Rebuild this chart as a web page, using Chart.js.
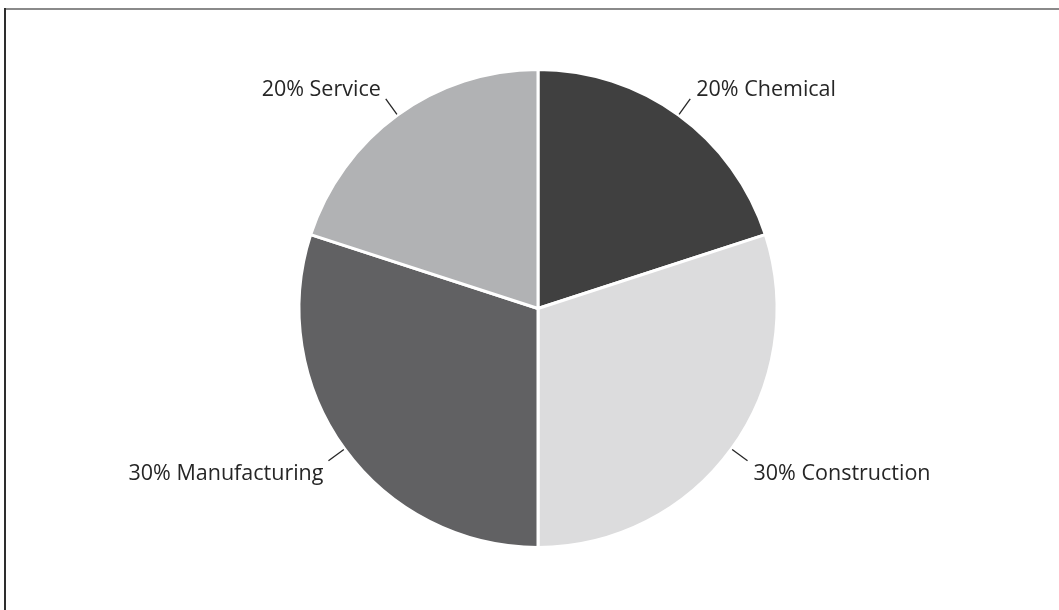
<!DOCTYPE html>
<html>
<head>
<meta charset="utf-8">
<title>Industry share</title>
<script src="https://cdn.jsdelivr.net/npm/chart.js@4/dist/chart.umd.min.js"></script>
<style>
  html, body { margin: 0; padding: 0; background: #ffffff; }
  #wrap { position: relative; width: 1059px; height: 610px; }
  canvas { display: block; }
</style>
</head>
<body>
<div id="wrap"><canvas id="pie" width="1059" height="610"></canvas></div>
<script>
// Sector names, shares (%) and slice fills
const sectors = ['Chemical', 'Construction', 'Manufacturing', 'Service'];
const shares = [20, 30, 30, 20];
const fills = ['#404040', '#dcdcdd', '#616163', '#b1b2b4'];

const FONT = '21.5px "Open Sans", "Noto Sans", sans-serif';

// Thin frame along the top and left edges
const framePlugin = {
  id: 'frame',
  beforeDraw(chart) {
    const ctx = chart.ctx;
    ctx.save();
    ctx.lineWidth = 2;
    ctx.strokeStyle = '#8a8a8a';
    ctx.beginPath();
    ctx.moveTo(4, 9);
    ctx.lineTo(chart.width, 9);
    ctx.stroke();
    ctx.strokeStyle = '#2e2e2e';
    ctx.beginPath();
    ctx.moveTo(5, 8);
    ctx.lineTo(5, chart.height);
    ctx.stroke();
    ctx.restore();
  }
};

// Leader lines and "NN% Name" labels outside each slice
const labelPlugin = {
  id: 'outerLabels',
  afterDatasetsDraw(chart) {
    const ctx = chart.ctx;
    const meta = chart.getDatasetMeta(0);
    ctx.save();
    ctx.font = FONT;
    ctx.fillStyle = '#262626';
    ctx.strokeStyle = '#262626';
    ctx.lineWidth = 1.3;
    meta.data.forEach((arc, i) => {
      const mid = (arc.startAngle + arc.endAngle) / 2;
      const cos = Math.cos(mid), sin = Math.sin(mid);
      const r0 = arc.outerRadius + 1;
      const r1 = arc.outerRadius + 20;
      const x0 = arc.x + cos * r0, y0 = arc.y + sin * r0;
      const x1 = arc.x + cos * r1, y1 = arc.y + sin * r1;
      ctx.beginPath();
      ctx.moveTo(x0, y0);
      ctx.lineTo(x1, y1);
      ctx.stroke();
      const text = shares[i] + '% ' + sectors[i];
      const right = cos >= 0;
      ctx.textAlign = right ? 'left' : 'right';
      ctx.textBaseline = 'alphabetic';
      const tx = right ? x1 + 6 : x1 - 5;
      const ty = sin < 0 ? y1 - 3 : y1 + 19;
      ctx.fillText(text, tx, ty);
    });
    ctx.restore();
  }
};

new Chart(document.getElementById('pie'), {
  type: 'pie',
  data: {
    labels: sectors,
    datasets: [{
      data: shares,
      backgroundColor: fills,
      borderColor: '#ffffff',
      borderWidth: 3
    }]
  },
  options: {
    responsive: false,
    animation: false,
    events: [],
    layout: { padding: { left: 297.5, right: 280.5, top: 68, bottom: 61 } },
    plugins: {
      legend: { display: false },
      tooltip: { enabled: false },
      title: { display: false }
    }
  },
  plugins: [framePlugin, labelPlugin]
});
</script>
</body>
</html>
